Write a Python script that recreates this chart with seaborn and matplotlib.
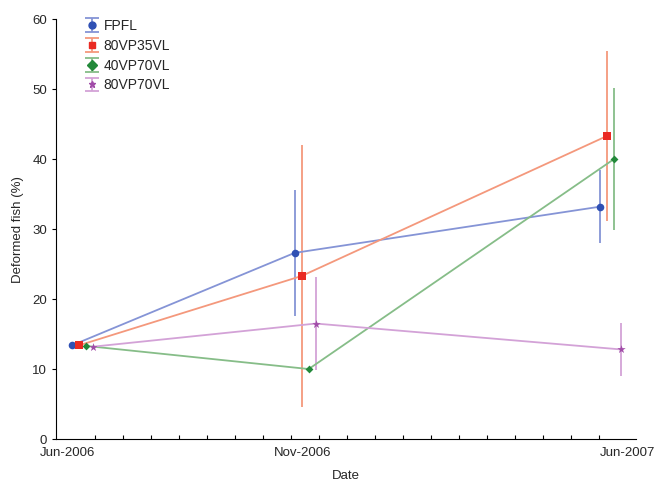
import numpy as np
import pandas as pd
import matplotlib
matplotlib.use("Agg")
import matplotlib.pyplot as plt
import matplotlib.dates as mdates
import seaborn as sns

# data
groups = ["FPFL", "80VP35VL", "40VP70VL", "80VP70VL"]
sample_dates = ["2006-06-11", "2006-11-03", "2007-05-21"]
fpfl = [13.4, 26.6, 33.2]
fpfl_err = [0.0, 9.0, 5.2]
vp35_80 = [13.4, 23.3, 43.3]
vp35_80_err = [0.0, 18.7, 12.2]
vp70_40 = [13.3, 10.0, 40.0]
vp70_40_err = [0.0, 0.0, 10.1]
vp70_80 = [13.2, 16.5, 12.8]
vp70_80_err = [0.0, 6.7, 3.8]
tick_labels = ["Jun-2006", "Nov-2006", "Jun-2007"]
tick_dates = ["2006-06-01", "2006-11-01", "2007-06-01"]

values = [fpfl, vp35_80, vp70_40, vp70_80]
errors = [fpfl_err, vp35_80_err, vp70_40_err, vp70_80_err]

marker_cols = ["#2f50b4", "#ea2a22", "#23893a", "#a14ca8"]
line_cols = ["#8594d6", "#f4987c", "#86bd88", "#d3a2d7"]
markers = ["o", "s", "D", "*"]
sizes = [30, 30, 16, 40]
offsets = [-6.9, -2.3, 2.3, 6.9]  # dodge in days

base = mdates.date2num(pd.to_datetime(sample_dates))
rows = []
for g, v, e, off in zip(groups, values, errors, offsets):
    for b, y, err in zip(base, v, e):
        rows.append({"group": g, "x": b + off, "y": y, "err": err})
df = pd.DataFrame(rows)

sns.set_style("white")
plt.rcParams["font.family"] = ["Liberation Sans", "DejaVu Sans"]

fig = plt.figure(figsize=(6.61, 4.82), dpi=100)
ax = fig.add_axes([0.0847, 0.0892, 0.877, 0.871])

pal = dict(zip(groups, line_cols))
sns.lineplot(data=df, x="x", y="y", hue="group", palette=pal, lw=1.3,
             legend=False, ax=ax, sort=True, zorder=2)
handles = []
for g, mc, lc, m, s in zip(groups, marker_cols, line_cols, markers, sizes):
    d = df[df.group == g]
    ax.errorbar(d.x, d.y, yerr=d.err, fmt="none", ecolor=lc, elinewidth=1.3,
                capsize=0, zorder=1)
    sns.scatterplot(x=d.x, y=d.y, color=mc, marker=m, s=s, linewidth=0,
                    ax=ax, zorder=3, legend=False)
    h = ax.errorbar([np.nan], [np.nan], yerr=[1], fmt=m, color=mc,
                    ms=5, mec=mc, ecolor=lc, elinewidth=1.3,
                    capsize=5, capthick=1.3)
    handles.append(h)

ax.legend(handles, groups, loc="upper left", bbox_to_anchor=(0.120, 0.9724),
          bbox_transform=fig.transFigure, frameon=False, fontsize=10,
          handlelength=1.0, handletextpad=0.35, labelspacing=0.42,
          borderaxespad=0)

ticks = mdates.date2num(pd.to_datetime(tick_dates))
ax.set_xlim(ticks[0] - 7.5, ticks[-1] + 5.5)
ax.set_xticks(ticks, labels=tick_labels)
ax.set_xticks(np.linspace(ticks[0], ticks[-1], 21), minor=True)
ax.tick_params(axis="x", which="major", length=0, pad=6, labelsize=9.5)
ax.tick_params(axis="x", which="minor", direction="in", length=3,
               width=0.8, bottom=True, color="black")
ax.set_ylim(0, 60)
ax.set_yticks(range(0, 61, 10))
ax.tick_params(axis="y", direction="out", length=3, width=0.8, left=True,
               labelsize=9.5, color="black")

for sp in ["top", "right"]:
    ax.spines[sp].set_visible(False)
for sp in ["left", "bottom"]:
    ax.spines[sp].set_color("black")
    ax.spines[sp].set_linewidth(0.8)

ax.set_xlabel("Date", fontsize=9.5, labelpad=8)
ax.set_ylabel("Deformed fish (%)", fontsize=9.5, labelpad=6)

fig.savefig("out.png", dpi=100)
